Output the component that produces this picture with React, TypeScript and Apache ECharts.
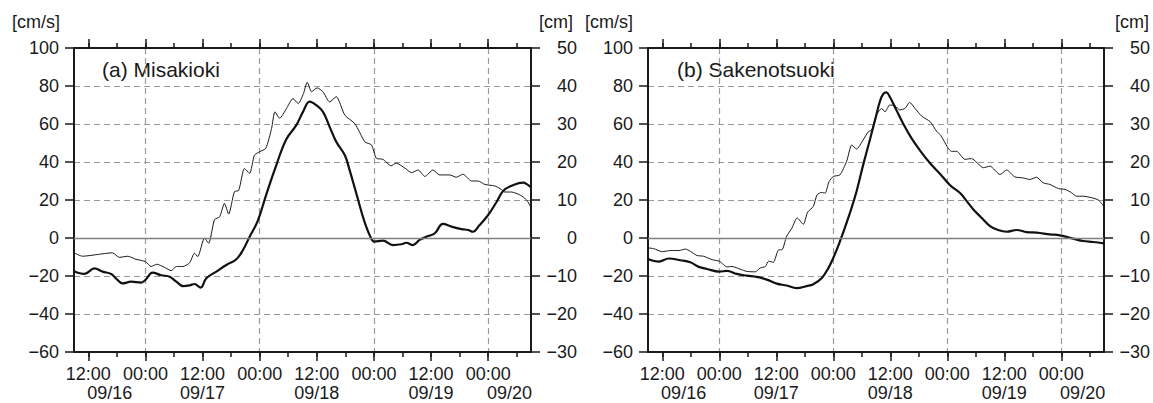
import React, { useEffect, useRef } from "react";
import * as echarts from "echarts";

// ---------- data (hours since 09/16 09:00) ----------
const startHourOfDay = 9;
const spanHours = 96;
const dateLabels = ["09/16", "09/17", "09/18", "09/19", "09/20"];
const clockLabels: Record<number, string> = { 0: "00:00", 12: "12:00" };
const panelTitles = ["(a) Misakioki", "(b) Sakenotsuoki"];
const velocityUnit = "[cm/s]";
const levelUnit = "[cm]";
const velocityRange = { min: -60, max: 100, step: 20 };
const levelRange = { min: -30, max: 50, step: 10 };

// thick line: current velocity [cm/s] (left axis)
const misakiVelocity: [number, number][] = [
  [0, -17.5], [2.2, -18.9], [4.3, -16], [6, -17.7], [7.8, -18.9], [8.8, -21.2], [10.2, -23.9],
  [12, -23], [14.1, -23.5], [15, -22.1], [16.5, -18.2], [18.3, -19.6], [20.1, -20.4], [21.5, -23],
  [22.9, -25.3], [24.3, -24.9], [25.3, -24.2], [26.6, -26.1], [27.8, -21.2], [29.9, -17.7],
  [32, -14.2], [34.1, -11.2], [35.5, -6.3], [36.9, 0.7], [38.6, 9], [40.4, 23], [42.5, 38.4],
  [44.6, 52], [46.7, 59.4], [48.1, 66.4], [49.5, 71.8], [50.9, 69.9], [52.3, 66.4], [53.7, 58.5],
  [55.1, 50.6], [56.9, 43.6], [57.9, 35.7], [59.4, 22.6], [60.8, 10.3], [62.2, 1], [63.1, -1.9],
  [64.9, -1.4], [67, -3.7], [68.8, -3.3], [69.8, -2.5], [71.2, -3.7], [72.6, -1], [74.4, 1],
  [75.8, 2.5], [77.5, 7.4], [79.3, 6], [81.4, 4.7], [82.8, 4.2], [83.8, 3.3], [85.2, 6.8],
  [87, 12.1], [88.8, 19.1], [90.2, 24.9], [92.3, 27.9], [94.4, 29.1], [95.2, 28.2], [96, 26.7],
];

// thin line: sea level [cm] (right axis)
const misakiSeaLevel: [number, number][] = [
  [0, -3.9], [1.8, -4.8], [4.6, -4.4], [8.1, -3.9], [9.5, -5.1], [11.3, -4.8], [13, -5.6],
  [15, -6.2], [16.2, -7.5], [17.4, -6.9], [19, -7.7], [20.4, -8.6], [21.5, -7.5], [22.9, -7.5],
  [24.3, -6.5], [25.3, -4], [26, -4.9], [27.4, 0], [28.3, -1.4], [29.5, 4.8], [30.6, 5.6],
  [31.6, 9.1], [32.5, 6.3], [33.7, 12.2], [34.6, 12.5], [35.8, 18.3], [36.9, 17], [37.9, 21.8],
  [39, 22.7], [40.3, 23.6], [41.5, 28.8], [42.2, 33.2], [43.2, 31.5], [44.6, 34], [46, 36.7],
  [47.1, 35.4], [48.2, 38], [49, 41], [49.9, 38.5], [51.1, 39.5], [52.3, 38.5], [53.7, 35.8],
  [55.1, 37.2], [56.9, 32.3], [59, 30.1], [61.1, 25.3], [62.5, 24.5], [63.5, 21], [64.9, 20.7],
  [66.6, 19], [67.7, 19.7], [69.5, 18.4], [70.9, 17.2], [72.3, 17.9], [73.7, 16.2], [75.4, 17.9],
  [76.8, 16.6], [78.9, 16.6], [80.3, 16], [81.7, 16.8], [83.5, 15], [84.9, 15], [86.3, 14.1],
  [88.4, 13.7], [89.5, 13], [90.5, 12.1], [91.9, 12.1], [93.7, 11.3], [95.1, 10], [96, 8],
];

const sakenotsuVelocity: [number, number][] = [
  [0, -11], [2.3, -12.4], [4.4, -10.8], [6.8, -11.7], [8.9, -12.8], [10.7, -15.2], [12.4, -16.3],
  [15, -17.7], [16.6, -17.3], [18.7, -18.9], [20.8, -19.8], [22.9, -20.5], [25, -21.9],
  [27.1, -24], [29.2, -25], [31.3, -26.4], [33.4, -25.3], [34.8, -24.3], [36.6, -21], [38, -15.7],
  [39, -10.5], [40.3, -2.6], [42.5, 13.1], [43.9, 24.5], [45.3, 38.5], [46.7, 51.6], [47.8, 62.1],
  [48.8, 71.7], [49.5, 75.7], [50.2, 76.6], [50.9, 74.3], [52.3, 67.3], [53.7, 60.3], [55.5, 52.4],
  [57.2, 46.3], [59.4, 39.3], [61.5, 33.7], [63.6, 27.8], [65.7, 23.7], [67.1, 19.4], [68.5, 15],
  [70.2, 10.7], [72, 6.3], [73.7, 4.2], [75.5, 3.3], [77.6, 4.2], [79.7, 3.1], [81.8, 2.8],
  [84.6, 1.9], [86.7, 1.4], [89.5, -0.3], [91.6, -1.6], [93.7, -2.1], [96, -2.8],
];

const sakenotsuSeaLevel: [number, number][] = [
  [0, -2.6], [1.2, -2.8], [3, -3.6], [4.7, -3.3], [6.5, -3.3], [7.9, -2.9], [8.9, -3.5],
  [10.3, -4.6], [11.7, -4.8], [13.5, -5.7], [15, -6.1], [15.9, -7], [16.6, -7.6], [17.7, -7.5],
  [19.4, -8.2], [20.8, -8.8], [22.6, -8.9], [23.6, -7.9], [24.7, -7.5], [25.4, -6.1], [26.4, -6.4],
  [27.5, -3.1], [28.2, -3.1], [29.2, 0.5], [30.3, 2.6], [31.4, 5.3], [32.7, 3.6], [33.6, 6.8],
  [34.8, 8.3], [35.6, 11.4], [36.6, 12], [37.3, 11.8], [38.1, 14.8], [39, 16.2], [40.4, 16.6],
  [41.8, 20.1], [42.9, 24.5], [43.9, 23.4], [45.3, 25.8], [46.4, 28], [47.1, 28.4], [48.1, 32.4],
  [49.2, 34.1], [49.9, 33.2], [50.9, 35], [52, 34.8], [53, 33.7], [54.1, 34.1], [55.1, 35.7],
  [56.2, 34.1], [57.6, 32.1], [59.4, 30.6], [60.8, 28], [61.5, 27.2], [62.2, 25.8], [63.2, 23.6],
  [63.9, 22.8], [65, 22.8], [66.7, 20.7], [68.1, 20.9], [70.6, 18.5], [72, 18.9], [74.1, 16.7],
  [75.5, 17.9], [77.2, 16.1], [79, 15.8], [80.4, 15.4], [81.8, 16], [83.2, 14.5], [84.6, 14.1],
  [86.4, 13], [87.8, 12.8], [89.2, 11.9], [90.2, 11], [91.6, 11], [93.4, 10.6], [94.8, 10], [96, 8.3],
];

const panels = [
  { velocity: misakiVelocity, level: misakiSeaLevel },
  { velocity: sakenotsuVelocity, level: sakenotsuSeaLevel },
];

// ---------- layout ----------
const W = 1153;
const H = 403;
const FONT = "'Liberation Sans', Arial, Helvetica, sans-serif";
const INK = "#1a1a1a";
const GRID_GRAY = "#9a9a9a";
const LABEL_SIZE = 18;
const gridBoxes = [
  { left: 74, top: 48, width: 457, height: 304 },
  { left: 648, top: 48, width: 456, height: 304 },
];

const hourCats = Array.from({ length: spanHours + 1 }, (_, i) => String(i));
const halfHourCats = Array.from({ length: spanHours * 2 + 1 }, (_, i) => String(i));
const hod = (i: number) => (startHourOfDay + i) % 24;

// date label at the middle of the visible part of each day
const dateLabelIndex: Record<number, string> = {};
dateLabels.forEach((d, k) => {
  const s = 24 * k - startHourOfDay;
  const a = Math.max(0, s);
  const b = Math.min(spanHours, s + 24);
  dateLabelIndex[Math.round(a + b)] = d; // half-hour index
});

const minus = (v: number) => String(v).replace("-", "\u2212");

function buildOption() {
  const xAxis: any[] = [];
  const yAxis: any[] = [];
  const series: any[] = [];
  const grid = gridBoxes.map((g) => ({ ...g, outerBoundsMode: "none", containLabel: false }));

  panels.forEach((p, g) => {
    const base = xAxis.length;
    const hidden = { show: false };
    // data axis (bottom frame)
    xAxis.push({
      type: "value", gridIndex: g, position: "bottom", min: 0, max: spanHours,
      axisLine: { show: true, onZero: false, lineStyle: { color: INK, width: 2 } },
      axisTick: hidden, axisLabel: hidden, splitLine: hidden,
    });
    // bottom major ticks + clock labels + vertical grid
    xAxis.push({
      type: "category", gridIndex: g, position: "bottom", data: hourCats, boundaryGap: false,
      axisLine: { show: false, onZero: false },
      axisTick: { show: true, length: 9, interval: (i: number) => hod(i) % 12 === 0, lineStyle: { color: INK, width: 1.5 } },
      axisLabel: {
        show: true, interval: (i: number) => hod(i) % 12 === 0,
        formatter: (_v: string, i: number) => clockLabels[hod(i)] ?? "",
        fontSize: LABEL_SIZE, fontFamily: FONT, color: INK, margin: 13,
      },
      splitLine: { show: true, interval: (i: number) => hod(i) === 0, lineStyle: { color: GRID_GRAY, type: [6, 4], width: 1.2 } },
    });
    // bottom minor ticks
    xAxis.push({
      type: "category", gridIndex: g, position: "bottom", data: hourCats, boundaryGap: false,
      axisLine: { show: false, onZero: false },
      axisTick: { show: true, length: 5, interval: (i: number) => hod(i) % 6 === 0, lineStyle: { color: INK, width: 1.5 } },
      axisLabel: hidden, splitLine: hidden,
    });
    // top frame + major ticks
    xAxis.push({
      type: "category", gridIndex: g, position: "top", data: hourCats, boundaryGap: false,
      axisLine: { show: true, onZero: false, lineStyle: { color: INK, width: 2 } },
      axisTick: { show: true, length: 9, interval: (i: number) => hod(i) % 12 === 0, lineStyle: { color: INK, width: 1.5 } },
      axisLabel: hidden, splitLine: hidden,
    });
    // top minor ticks
    xAxis.push({
      type: "category", gridIndex: g, position: "top", data: hourCats, boundaryGap: false,
      axisLine: { show: false, onZero: false },
      axisTick: { show: true, length: 5, interval: (i: number) => hod(i) % 6 === 0, lineStyle: { color: INK, width: 1.5 } },
      axisLabel: hidden, splitLine: hidden,
    });
    // date labels
    xAxis.push({
      type: "category", gridIndex: g, position: "bottom", data: halfHourCats, boundaryGap: false,
      axisLine: { show: false, onZero: false }, axisTick: hidden, splitLine: hidden,
      axisLabel: {
        show: true, interval: (i: number) => dateLabelIndex[i] !== undefined,
        formatter: (_v: string, i: number) => dateLabelIndex[i] ?? "",
        fontSize: LABEL_SIZE, lineHeight: 18, fontFamily: FONT, color: INK, margin: 32,
      },
    });

    const yBase = yAxis.length;
    yAxis.push({
      type: "value", gridIndex: g, position: "left",
      min: velocityRange.min, max: velocityRange.max, interval: velocityRange.step,
      axisLine: { show: true, onZero: false, lineStyle: { color: INK, width: 2 } },
      axisTick: { show: true, length: 9, lineStyle: { color: INK, width: 1.5 } },
      axisLabel: { formatter: minus, fontSize: LABEL_SIZE, fontFamily: FONT, color: INK, margin: 15 },
      splitLine: { show: true, lineStyle: { color: GRID_GRAY, type: [6, 4], width: 1.2 } },
    });
    yAxis.push({
      type: "value", gridIndex: g, position: "right",
      min: levelRange.min, max: levelRange.max, interval: levelRange.step,
      axisLine: { show: true, onZero: false, lineStyle: { color: INK, width: 2 } },
      axisTick: { show: true, length: 9, lineStyle: { color: INK, width: 1.5 } },
      axisLabel: { formatter: minus, fontSize: LABEL_SIZE, fontFamily: FONT, color: INK, margin: 46, align: "right" },
      splitLine: { show: false },
    });

    series.push({
      type: "line", name: "sea level " + g, xAxisIndex: base, yAxisIndex: yBase + 1,
      data: p.level, smooth: 0.2, showSymbol: false, symbol: "none",
      lineStyle: { color: INK, width: 1 }, z: 3,
      markLine: {
        silent: true, symbol: "none", label: { show: false },
        lineStyle: { color: "#808080", type: "solid", width: 1.3 },
        data: [{ yAxis: 0 }],
      },
    });
    series.push({
      type: "line", name: "velocity " + g, xAxisIndex: base, yAxisIndex: yBase,
      data: p.velocity, smooth: 0.4, showSymbol: false, symbol: "none",
      lineStyle: { color: "#111", width: 2.2 }, z: 4,
    });
  });

  const txt = (text: string, x: number, y: number, size: number, align = "center") => ({
    type: "text", x, y, silent: true,
    style: { text, fontSize: size, fontFamily: FONT, fill: INK, textAlign: align, textVerticalAlign: "middle" },
  });

  const graphic = [
    txt(velocityUnit, 36, 22, LABEL_SIZE),
    txt(levelUnit, 556, 22, LABEL_SIZE),
    txt(velocityUnit, 609, 22, LABEL_SIZE),
    txt(levelUnit, 1132, 22, LABEL_SIZE),
    txt(panelTitles[0], 102, 69, 21, "left"),
    txt(panelTitles[1], 677, 69, 21, "left"),
  ];

  return {
    animation: false,
    backgroundColor: "#fff",
    grid, xAxis, yAxis, series, graphic,
  };
}

export default function App() {
  const ref = useRef<HTMLDivElement>(null);
  useEffect(() => {
    const chart = echarts.init(ref.current!, null, { renderer: "svg" });
    chart.setOption(buildOption() as any);
    return () => chart.dispose();
  }, []);
  return (
    <div
      ref={ref}
      style={{ position: "fixed", left: 0, top: 0, width: W, height: H, background: "#fff" }}
    />
  );
}
